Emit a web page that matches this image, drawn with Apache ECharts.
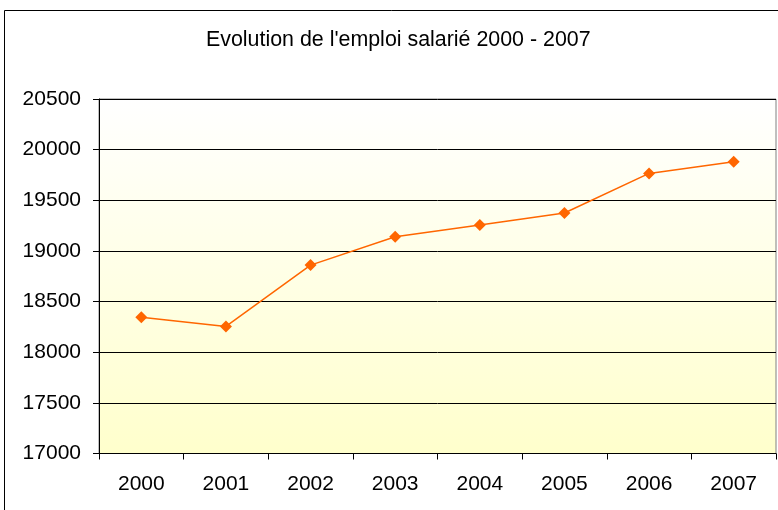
<!DOCTYPE html>
<html><head><meta charset="utf-8">
<script src="https://cdn.jsdelivr.net/npm/echarts@6/dist/echarts.min.js"></script>
<style>html,body{margin:0;padding:0;background:#fff}#c{width:778px;height:510px}</style>
</head><body><div id="c"></div>
<script>
const categories = ['2000','2001','2002','2003','2004','2005','2006','2007'];
const values = [18345, 18255, 18860, 19140, 19255, 19375, 19765, 19880];
const yMin = 17000, yMax = 20500, yStep = 500;

const chart = echarts.init(document.getElementById('c'), null, {renderer:'canvas'});
chart.setOption({
  animation:false,
  backgroundColor:'#fff',
  title:{text:"Evolution de l'emploi salarié 2000 - 2007", left:201, top:25,
    textStyle:{fontFamily:'Liberation Sans', fontSize:21.4, fontWeight:'normal', color:'#000'}},
  graphic:[{type:'rect', shape:{x:4.5,y:10.5,width:900,height:700}, style:{fill:null, stroke:'#000', lineWidth:1}, silent:true}],
  grid:{left:99, right:2, top:99, bottom:56.5, show:true, borderColor:'#808080', borderWidth:1,
    backgroundColor:{type:'linear',x:0,y:0,x2:0,y2:1,colorStops:[{offset:0,color:'#ffffff'},{offset:1,color:'#ffffcc'}]}},
  xAxis:{type:'category', data:categories, boundaryGap:true,
    axisLine:{lineStyle:{color:'#000'}},
    axisTick:{show:true, length:6, inside:false, lineStyle:{color:'#000'}},
    axisLabel:{fontFamily:'Liberation Sans', fontSize:21, color:'#000', margin:20}},
  yAxis:{type:'value', min:yMin, max:yMax, interval:yStep,
    axisLine:{show:true, lineStyle:{color:'#000'}},
    axisTick:{show:true, length:6, lineStyle:{color:'#000'}},
    splitLine:{lineStyle:{color:'#000', width:1}},
    axisLabel:{fontFamily:'Liberation Sans', fontSize:21, color:'#000', margin:18, formatter:function(v){return String(v);}}},
  series:[{type:'line', data:values, symbol:'diamond', symbolSize:12,
    lineStyle:{color:'#ff6600', width:1.5}, itemStyle:{color:'#ff6600'}}]
});
</script></body></html>
